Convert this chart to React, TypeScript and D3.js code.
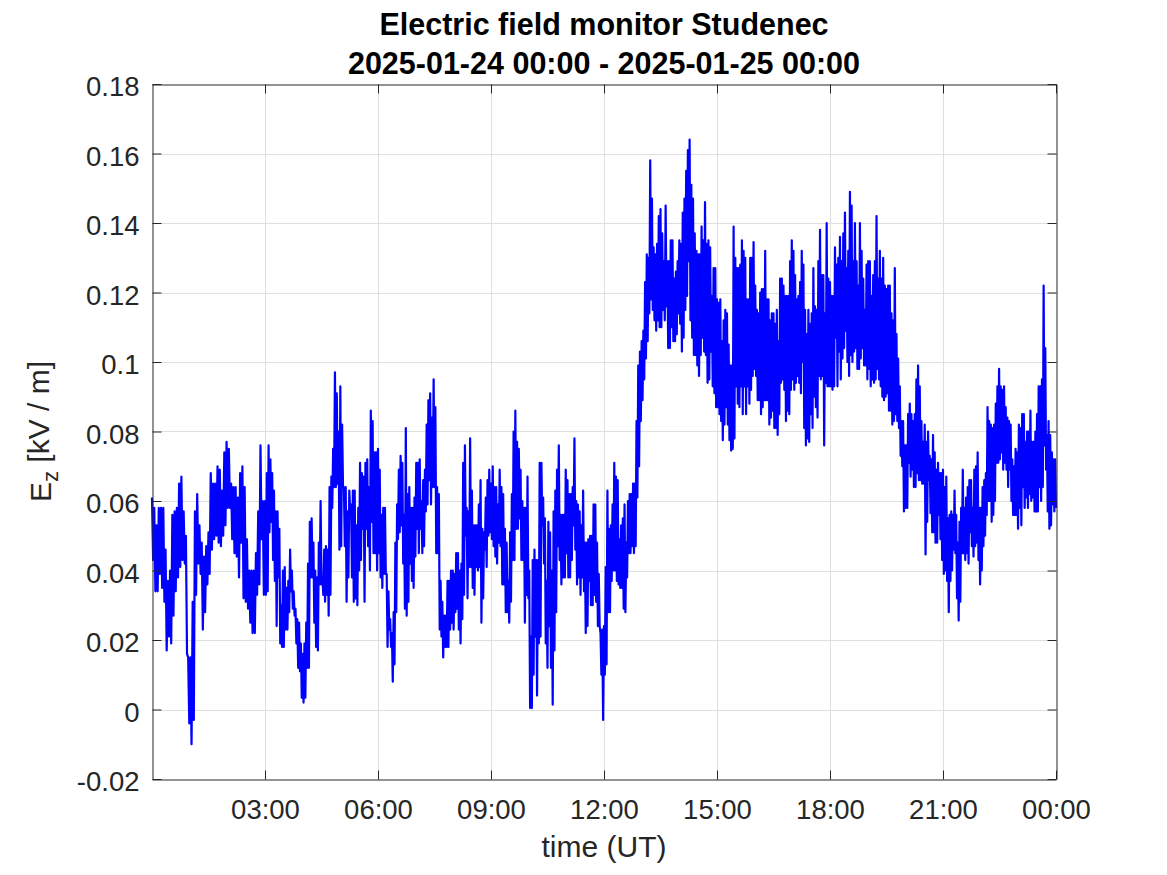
import React, { useEffect, useRef } from "react";
import * as d3 from "d3";

// Ez [kV/m] readings, alternating local highs/lows, one array per 3-hour block (UT)
const blockStartHours = [0, 3, 6, 9, 12, 15, 18, 21];

const ez_00_03 = [0.061, 0.043, 0.058, 0.034, 0.053, 0.034, 0.058, 0.039, 0.058, 0.035, 0.058, 0.031, 0.046, 0.017, 0.037, 0.021, 0.040, 0.019, 0.056, 0.027, 0.057, 0.034, 0.058, 0.038, 0.065, 0.041, 0.067, 0.043, 0.057, 0.042, 0.050, 0.016, 0.015, -0.004, 0.015, -0.010, 0.031, -0.003, 0.057, 0.033, 0.062, 0.042, 0.053, 0.039, 0.048, 0.023, 0.044, 0.028, 0.047, 0.036, 0.051, 0.039, 0.068, 0.046, 0.065, 0.049, 0.065, 0.050, 0.070, 0.048, 0.069, 0.047, 0.063, 0.050, 0.074, 0.053, 0.077, 0.058, 0.075, 0.058, 0.065, 0.049, 0.064, 0.045, 0.064, 0.044, 0.061, 0.038, 0.068, 0.048, 0.070, 0.032, 0.064, 0.031, 0.049, 0.029, 0.040, 0.025, 0.040, 0.022, 0.040, 0.022, 0.045, 0.033, 0.057, 0.036, 0.076, 0.049, 0.060, 0.033];

const ez_03_06 = [0.060, 0.033, 0.068, 0.034, 0.076, 0.051, 0.072, 0.054, 0.068, 0.043, 0.063, 0.037, 0.057, 0.024, 0.057, 0.038, 0.052, 0.019, 0.030, 0.018, 0.040, 0.018, 0.041, 0.023, 0.035, 0.023, 0.037, 0.028, 0.046, 0.034, 0.040, 0.029, 0.034, 0.027, 0.029, 0.019, 0.026, 0.012, 0.025, 0.011, 0.019, 0.0034, 0.016, 0.002, 0.019, 0.0034, 0.025, 0.012, 0.042, 0.012, 0.054, 0.038, 0.055, 0.038, 0.048, 0.025, 0.040, 0.018, 0.038, 0.017, 0.048, 0.036, 0.060, 0.036, 0.038, 0.033, 0.046, 0.031, 0.047, 0.033, 0.046, 0.027, 0.064, 0.033, 0.067, 0.058, 0.075, 0.064, 0.097, 0.064, 0.091, 0.065, 0.080, 0.046, 0.093, 0.047, 0.082, 0.064, 0.064, 0.047, 0.064, 0.031, 0.057, 0.038, 0.063, 0.057, 0.059, 0.038, 0.063, 0.031, 0.063, 0.032, 0.053, 0.030, 0.058, 0.040, 0.071, 0.043, 0.068, 0.052, 0.067, 0.031, 0.071, 0.052, 0.072, 0.047, 0.064, 0.040, 0.086, 0.054, 0.083, 0.045, 0.074, 0.045, 0.074, 0.040];

const ez_06_09 = [0.075, 0.045, 0.069, 0.038, 0.056, 0.035, 0.058, 0.039, 0.058, 0.039, 0.039, 0.018, 0.034, 0.023, 0.026, 0.018, 0.022, 0.008, 0.028, 0.013, 0.048, 0.028, 0.059, 0.049, 0.069, 0.051, 0.073, 0.053, 0.071, 0.042, 0.056, 0.029, 0.081, 0.027, 0.062, 0.031, 0.064, 0.042, 0.058, 0.037, 0.058, 0.035, 0.061, 0.044, 0.071, 0.052, 0.071, 0.045, 0.072, 0.052, 0.060, 0.045, 0.066, 0.047, 0.069, 0.057, 0.082, 0.059, 0.089, 0.066, 0.091, 0.059, 0.084, 0.064, 0.095, 0.064, 0.087, 0.045, 0.064, 0.045, 0.062, 0.023, 0.037, 0.021, 0.031, 0.015, 0.027, 0.018, 0.027, 0.018, 0.037, 0.018, 0.037, 0.023, 0.040, 0.025, 0.040, 0.023, 0.039, 0.028, 0.045, 0.029, 0.045, 0.023, 0.040, 0.019, 0.042, 0.026, 0.071, 0.033, 0.076, 0.050, 0.058, 0.032, 0.057, 0.041, 0.078, 0.041, 0.063, 0.035, 0.053, 0.033, 0.053, 0.041, 0.053, 0.040, 0.059, 0.041, 0.066, 0.025, 0.052, 0.032, 0.051, 0.046, 0.061, 0.041, 0.066, 0.050, 0.069, 0.051];

const ez_09_12 = [0.065, 0.049, 0.070, 0.047, 0.064, 0.044, 0.064, 0.042, 0.059, 0.048, 0.069, 0.047, 0.064, 0.036, 0.062, 0.036, 0.052, 0.028, 0.048, 0.028, 0.037, 0.025, 0.051, 0.031, 0.062, 0.043, 0.080, 0.043, 0.086, 0.052, 0.077, 0.052, 0.075, 0.055, 0.069, 0.043, 0.060, 0.043, 0.058, 0.025, 0.058, 0.033, 0.067, 0.032, 0.040, 0.0004, 0.021, 0.0004, 0.043, 0.010, 0.046, 0.021, 0.043, 0.004, 0.043, 0.019, 0.071, 0.021, 0.071, 0.053, 0.061, 0.042, 0.055, 0.019, 0.037, 0.012, 0.054, 0.024, 0.051, 0.012, 0.040, 0.0014, 0.057, 0.017, 0.063, 0.028, 0.069, 0.047, 0.076, 0.043, 0.056, 0.036, 0.056, 0.038, 0.056, 0.038, 0.069, 0.045, 0.066, 0.038, 0.062, 0.038, 0.062, 0.043, 0.064, 0.053, 0.078, 0.046, 0.060, 0.036, 0.059, 0.038, 0.057, 0.033, 0.053, 0.038, 0.063, 0.034, 0.048, 0.022, 0.048, 0.024, 0.049, 0.037, 0.050, 0.030, 0.050, 0.030, 0.059, 0.033, 0.059, 0.031, 0.048, 0.024, 0.039, 0.024, 0.022, 0.010, 0.023, -0.003];

const ez_12_15 = [0.024, 0.010, 0.041, 0.013, 0.063, 0.028, 0.052, 0.028, 0.053, 0.037, 0.059, 0.040, 0.071, 0.040, 0.067, 0.037, 0.066, 0.036, 0.049, 0.035, 0.053, 0.035, 0.055, 0.029, 0.059, 0.028, 0.048, 0.038, 0.060, 0.045, 0.062, 0.045, 0.062, 0.047, 0.065, 0.045, 0.065, 0.047, 0.083, 0.061, 0.099, 0.070, 0.103, 0.083, 0.106, 0.089, 0.109, 0.095, 0.123, 0.101, 0.131, 0.106, 0.130, 0.114, 0.158, 0.118, 0.147, 0.115, 0.133, 0.112, 0.131, 0.109, 0.134, 0.112, 0.142, 0.110, 0.144, 0.110, 0.137, 0.115, 0.129, 0.112, 0.145, 0.116, 0.129, 0.104, 0.129, 0.104, 0.135, 0.110, 0.135, 0.106, 0.124, 0.106, 0.126, 0.108, 0.129, 0.114, 0.135, 0.111, 0.134, 0.103, 0.143, 0.107, 0.147, 0.115, 0.155, 0.119, 0.161, 0.129, 0.164, 0.112, 0.151, 0.107, 0.147, 0.102, 0.137, 0.102, 0.132, 0.099, 0.131, 0.096, 0.131, 0.102, 0.139, 0.107, 0.135, 0.103, 0.146, 0.102, 0.134, 0.094, 0.135, 0.095, 0.133, 0.103, 0.119, 0.093, 0.127, 0.091, 0.127, 0.087];

const ez_15_18 = [0.118, 0.087, 0.117, 0.085, 0.118, 0.083, 0.106, 0.0775, 0.112, 0.082, 0.115, 0.087, 0.114, 0.082, 0.105, 0.0775, 0.099, 0.0745, 0.099, 0.075, 0.139, 0.078, 0.130, 0.093, 0.127, 0.088, 0.127, 0.087, 0.128, 0.093, 0.135, 0.085, 0.132, 0.093, 0.130, 0.085, 0.118, 0.093, 0.118, 0.088, 0.130, 0.092, 0.130, 0.096, 0.1345, 0.098, 0.122, 0.096, 0.115, 0.089, 0.114, 0.089, 0.120, 0.085, 0.121, 0.087, 0.121, 0.089, 0.132, 0.089, 0.118, 0.089, 0.118, 0.082, 0.112, 0.084, 0.114, 0.086, 0.114, 0.081, 0.111, 0.081, 0.115, 0.079, 0.106, 0.085, 0.124, 0.094, 0.124, 0.095, 0.122, 0.092, 0.119, 0.083, 0.119, 0.086, 0.119, 0.085, 0.129, 0.092, 0.135, 0.095, 0.132, 0.092, 0.125, 0.094, 0.118, 0.096, 0.119, 0.094, 0.123, 0.091, 0.132, 0.100, 0.128, 0.081, 0.115, 0.076, 0.108, 0.078, 0.115, 0.077, 0.111, 0.085, 0.114, 0.081, 0.127, 0.090, 0.116, 0.087, 0.115, 0.084, 0.129, 0.096, 0.138, 0.095, 0.125, 0.096, 0.125, 0.076, 0.114, 0.094, 0.140, 0.093, 0.124, 0.093];

const ez_18_21 = [0.123, 0.093, 0.119, 0.092, 0.119, 0.093, 0.133, 0.107, 0.128, 0.093, 0.130, 0.103, 0.136, 0.095, 0.129, 0.101, 0.137, 0.104, 0.143, 0.109, 0.127, 0.100, 0.132, 0.096, 0.149, 0.102, 0.145, 0.100, 0.129, 0.103, 0.140, 0.104, 0.129, 0.098, 0.122, 0.098, 0.140, 0.101, 0.132, 0.104, 0.124, 0.099, 0.115, 0.099, 0.128, 0.095, 0.129, 0.098, 0.129, 0.093, 0.119, 0.095, 0.125, 0.094, 0.129, 0.095, 0.142, 0.098, 0.124, 0.095, 0.132, 0.093, 0.124, 0.090, 0.130, 0.089, 0.122, 0.090, 0.121, 0.091, 0.122, 0.086, 0.122, 0.086, 0.114, 0.082, 0.112, 0.083, 0.127, 0.085, 0.108, 0.083, 0.101, 0.081, 0.093, 0.073, 0.083, 0.070, 0.083, 0.057, 0.076, 0.058, 0.076, 0.058, 0.085, 0.071, 0.088, 0.067, 0.085, 0.069, 0.083, 0.064, 0.085, 0.064, 0.095, 0.068, 0.099, 0.066, 0.093, 0.066, 0.083, 0.065, 0.077, 0.065, 0.082, 0.0446, 0.077, 0.054, 0.080, 0.066, 0.073, 0.0565, 0.072, 0.051, 0.079, 0.051, 0.074, 0.048, 0.069, 0.048, 0.071, 0.056, 0.068, 0.049, 0.068, 0.043];

const ez_21_24 = [0.069, 0.039, 0.064, 0.040, 0.067, 0.037, 0.055, 0.028, 0.056, 0.037, 0.057, 0.040, 0.056, 0.046, 0.063, 0.045, 0.056, 0.032, 0.048, 0.0256, 0.054, 0.031, 0.058, 0.045, 0.069, 0.045, 0.058, 0.043, 0.061, 0.045, 0.064, 0.042, 0.066, 0.051, 0.066, 0.047, 0.058, 0.044, 0.069, 0.047, 0.070, 0.048, 0.074, 0.043, 0.058, 0.036, 0.058, 0.040, 0.064, 0.047, 0.066, 0.050, 0.068, 0.056, 0.087, 0.060, 0.083, 0.060, 0.082, 0.054, 0.081, 0.056, 0.082, 0.060, 0.088, 0.071, 0.093, 0.071, 0.098, 0.072, 0.093, 0.074, 0.092, 0.069, 0.093, 0.071, 0.087, 0.069, 0.084, 0.064, 0.083, 0.069, 0.082, 0.060, 0.072, 0.056, 0.070, 0.056, 0.075, 0.056, 0.074, 0.052, 0.082, 0.058, 0.081, 0.053, 0.085, 0.064, 0.085, 0.058, 0.077, 0.061, 0.080, 0.058, 0.080, 0.062, 0.086, 0.060, 0.077, 0.061, 0.077, 0.057, 0.080, 0.057, 0.085, 0.057, 0.093, 0.064, 0.093, 0.060, 0.095, 0.064, 0.122, 0.076, 0.104, 0.069, 0.079, 0.057, 0.083, 0.052, 0.079, 0.053, 0.074, 0.059, 0.072, 0.057, 0.072, 0.058];

const ezBlocks = [ez_00_03, ez_03_06, ez_06_09, ez_09_12, ez_12_15, ez_15_18, ez_18_21, ez_21_24];

const yTickValues = [-0.02, 0, 0.02, 0.04, 0.06, 0.08, 0.1, 0.12, 0.14, 0.16, 0.18];
const xTickHours = [3, 6, 9, 12, 15, 18, 21, 24];
const titleLines = ["Electric field monitor Studenec", "2025-01-24 00:00 - 2025-01-25 00:00"];
const xLabel = "time (UT)";

const FONT = "'Liberation Sans', Arial, Helvetica, sans-serif";
const AX = "#262626";
const GRID = "#dfdfdf";

export default function App() {
  const ref = useRef<SVGSVGElement>(null);

  useEffect(() => {
    document.body.style.margin = "0";
    const W = 1167, H = 875;
    const L = 152, R = 1056, T = 84, B = 779;
    const svg = d3.select(ref.current);
    svg.selectAll("*").remove();
    svg.append("rect").attr("width", W).attr("height", H).attr("fill", "#fff");

    const t0 = Date.UTC(2025, 0, 24);
    const hour = 3600e3;
    const x = d3.scaleUtc().domain([new Date(t0), new Date(t0 + 24 * hour)]).range([L, R]);
    const y = d3.scaleLinear().domain([-0.02, 0.18]).range([B, T]);

    const xTicks = xTickHours.map((h) => new Date(t0 + h * hour));

    // grid
    const grid = svg.append("g");
    grid.selectAll("line.gx").data(xTicks.filter((d) => +d < t0 + 24 * hour)).join("line")
      .attr("x1", (d) => Math.round(x(d)) + 0.5).attr("x2", (d) => Math.round(x(d)) + 0.5)
      .attr("y1", T).attr("y2", B).attr("stroke", GRID).attr("stroke-width", 1);
    grid.selectAll("line.gy").data(yTickValues.filter((v) => v > -0.02 && v < 0.18)).join("line")
      .attr("y1", (d) => Math.round(y(d)) + 0.5).attr("y2", (d) => Math.round(y(d)) + 0.5)
      .attr("x1", L).attr("x2", R).attr("stroke", GRID).attr("stroke-width", 1);

    // data line
    const pts: { t: Date; v: number }[] = [];
    ezBlocks.forEach((arr, k) => {
      const denom = k === ezBlocks.length - 1 ? arr.length - 1 : arr.length;
      arr.forEach((v, i) => {
        pts.push({ t: new Date(t0 + (blockStartHours[k] + (3 * i) / denom) * hour), v });
      });
    });
    const line = d3.line<{ t: Date; v: number }>().x((d) => x(d.t)).y((d) => y(d.v));
    svg.append("path").datum(pts).attr("d", line).attr("fill", "none")
      .attr("stroke", "#0000ff").attr("stroke-width", 2.2).attr("stroke-linejoin", "round");

    const fmtY = (v: number) => String(+v.toFixed(2));
    const fmtX = d3.utcFormat("%H:%M");
    const styleAxis = (g: d3.Selection<SVGGElement, unknown, null, undefined>) => {
      g.select(".domain").attr("stroke", AX).attr("stroke-width", 1);
      g.selectAll(".tick line").attr("stroke", AX).attr("stroke-width", 1);
      g.selectAll("text").attr("fill", AX).attr("font-family", FONT).attr("font-size", 27.5);
    };

    // bottom
    const gb = svg.append("g").attr("transform", `translate(0,${B + 0.5})`)
      .call(d3.axisBottom(x).tickValues(xTicks).tickFormat((d) => fmtX(d as Date)).tickSizeInner(-9).tickSizeOuter(0).tickPadding(20));
    styleAxis(gb);
    // top
    const gt = svg.append("g").attr("transform", `translate(0,${T + 0.5})`)
      .call(d3.axisTop(x).tickValues(xTicks).tickFormat(() => "").tickSizeInner(-9).tickSizeOuter(0));
    styleAxis(gt);
    // left
    const gl = svg.append("g").attr("transform", `translate(${L + 0.5},0)`)
      .call(d3.axisLeft(y).tickValues(yTickValues).tickFormat((d) => fmtY(d as number)).tickSizeInner(-9).tickSizeOuter(0).tickPadding(13));
    styleAxis(gl);
    gl.selectAll("text").attr("dy", "0.43em");
    // right
    const gr = svg.append("g").attr("transform", `translate(${R + 0.5},0)`)
      .call(d3.axisRight(y).tickValues(yTickValues).tickFormat(() => "").tickSizeInner(-9).tickSizeOuter(0));
    styleAxis(gr);

    // title
    const cx = (L + R) / 2;
    svg.append("text").attr("x", cx).attr("y", 35).attr("text-anchor", "middle")
      .attr("font-family", FONT).attr("font-size", 30.5).attr("font-weight", "bold").attr("fill", "#000")
      .text(titleLines[0]);
    svg.append("text").attr("x", cx).attr("y", 74).attr("text-anchor", "middle")
      .attr("font-family", FONT).attr("font-size", 30.5).attr("font-weight", "bold").attr("fill", "#000")
      .text(titleLines[1]);

    // x label
    svg.append("text").attr("x", cx).attr("y", 857).attr("text-anchor", "middle")
      .attr("font-family", FONT).attr("font-size", 30).attr("fill", AX).text(xLabel);

    // y label
    const yl = svg.append("text").attr("transform", `translate(51,${(T + B) / 2}) rotate(-90)`)
      .attr("text-anchor", "middle").attr("font-family", FONT).attr("font-size", 30).attr("fill", AX);
    yl.append("tspan").text("E");
    yl.append("tspan").attr("dy", "0.3em").attr("font-size", 22).text("z");
    yl.append("tspan").attr("dy", "-0.3em").text(" [kV / m]");
  }, []);

  return <svg ref={ref} width={1167} height={875} style={{ display: "block" }} />;
}
